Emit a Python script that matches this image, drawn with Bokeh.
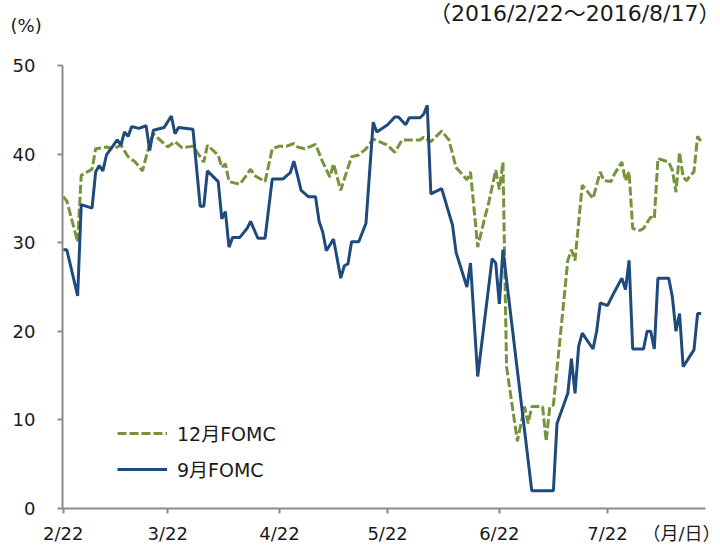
import pandas as pd
from bokeh.plotting import figure
from bokeh.layouts import column
from bokeh.models import FixedTicker, Legend, LegendItem, Range1d, LinearAxis, Title
from bokeh.embed import file_html
from bokeh.resources import INLINE

# ---- data ----
dates_sep = ["2016-02-22", "2016-02-23", "2016-02-26", "2016-02-27", "2016-03-01", "2016-03-02",
             "2016-03-03", "2016-03-04", "2016-03-05", "2016-03-08", "2016-03-09", "2016-03-10",
             "2016-03-11", "2016-03-12", "2016-03-14", "2016-03-16", "2016-03-17", "2016-03-18",
             "2016-03-21", "2016-03-23", "2016-03-24", "2016-03-25", "2016-03-29", "2016-03-31",
             "2016-04-01", "2016-04-02", "2016-04-05", "2016-04-06", "2016-04-07", "2016-04-08",
             "2016-04-09", "2016-04-11", "2016-04-13", "2016-04-14", "2016-04-16", "2016-04-18",
             "2016-04-20", "2016-04-23", "2016-04-25", "2016-04-26", "2016-04-27", "2016-04-28",
             "2016-04-30", "2016-05-02", "2016-05-03", "2016-05-04", "2016-05-05", "2016-05-07",
             "2016-05-09", "2016-05-10", "2016-05-11", "2016-05-12", "2016-05-14", "2016-05-16",
             "2016-05-18", "2016-05-19", "2016-05-22", "2016-05-24", "2016-05-25", "2016-05-27",
             "2016-05-28", "2016-05-31", "2016-06-01", "2016-06-02", "2016-06-03", "2016-06-06",
             "2016-06-09", "2016-06-10", "2016-06-13", "2016-06-14", "2016-06-16", "2016-06-20",
             "2016-06-21", "2016-06-22", "2016-06-23", "2016-07-01", "2016-07-07", "2016-07-08",
             "2016-07-11", "2016-07-12", "2016-07-13", "2016-07-14", "2016-07-15", "2016-07-18",
             "2016-07-19", "2016-07-20", "2016-07-22", "2016-07-24", "2016-07-26", "2016-07-27",
             "2016-07-28", "2016-07-29", "2016-08-01", "2016-08-02", "2016-08-03", "2016-08-04",
             "2016-08-05", "2016-08-08", "2016-08-09", "2016-08-10", "2016-08-11", "2016-08-12",
             "2016-08-15", "2016-08-16", "2016-08-17"]
values_sep = [29.2, 29.2, 24.0, 34.3, 33.9, 38.0,
              38.7, 38.1, 39.9, 41.6, 41.0, 42.5,
              42.0, 43.1, 42.9, 43.2, 40.4, 42.7,
              43.0, 44.3, 42.3, 43.0, 42.8, 34.1,
              34.1, 38.1, 36.9, 32.7, 33.5, 29.5,
              30.6, 30.6, 31.6, 32.4, 30.5, 30.5,
              37.2, 37.2, 37.9, 39.2, 37.6, 35.9,
              35.2, 35.2, 32.4, 31.2, 29.1, 30.4,
              26.0, 27.4, 27.6, 30.1, 30.1, 32.2,
              43.6, 42.5, 43.3, 44.2, 44.2, 43.3,
              44.1, 44.1, 44.5, 45.5, 35.5, 36.1,
              32.0, 28.9, 25.0, 27.7, 14.9, 28.2,
              27.7, 23.1, 29.2, 2.0, 2.0, 9.6,
              13.0, 16.9, 13.0, 18.3, 19.8, 18.0,
              20.0, 23.2, 22.9, 24.5, 26.0, 24.7,
              28.0, 18.0, 18.0, 20.0, 20.0, 18.0,
              26.0, 26.0, 23.9, 20.0, 22.0, 16.0,
              17.9, 22.0, 22.0]

dates_dec = ["2016-02-22", "2016-02-23", "2016-02-26", "2016-02-27", "2016-03-01", "2016-03-02",
             "2016-03-05", "2016-03-07", "2016-03-09", "2016-03-11", "2016-03-13", "2016-03-15",
             "2016-03-17", "2016-03-18", "2016-03-22", "2016-03-24", "2016-03-26", "2016-03-29",
             "2016-04-01", "2016-04-02", "2016-04-05", "2016-04-06", "2016-04-07", "2016-04-08",
             "2016-04-10", "2016-04-11", "2016-04-13", "2016-04-14", "2016-04-15", "2016-04-18",
             "2016-04-20", "2016-04-22", "2016-04-24", "2016-04-26", "2016-04-27", "2016-04-29",
             "2016-05-02", "2016-05-04", "2016-05-06", "2016-05-07", "2016-05-09", "2016-05-10",
             "2016-05-12", "2016-05-14", "2016-05-16", "2016-05-18", "2016-05-22", "2016-05-24",
             "2016-05-26", "2016-05-31", "2016-06-01", "2016-06-03", "2016-06-06", "2016-06-08",
             "2016-06-10", "2016-06-13", "2016-06-14", "2016-06-16", "2016-06-18", "2016-06-19",
             "2016-06-21", "2016-06-22", "2016-06-23", "2016-06-24", "2016-06-27", "2016-06-29",
             "2016-06-30", "2016-07-01", "2016-07-04", "2016-07-05", "2016-07-06", "2016-07-07",
             "2016-07-09", "2016-07-11", "2016-07-12", "2016-07-13", "2016-07-15", "2016-07-18",
             "2016-07-20", "2016-07-21", "2016-07-23", "2016-07-24", "2016-07-26", "2016-07-27",
             "2016-07-28", "2016-07-29", "2016-07-31", "2016-08-01", "2016-08-03", "2016-08-04",
             "2016-08-05", "2016-08-08", "2016-08-09", "2016-08-10", "2016-08-11", "2016-08-12",
             "2016-08-13", "2016-08-14", "2016-08-15", "2016-08-16", "2016-08-17"]
values_dec = [35.2, 34.7, 30.1, 37.6, 38.3, 40.6,
              40.8, 40.6, 41.0, 39.7, 39.1, 38.1,
              41.2, 42.3, 40.8, 41.4, 40.7, 40.9,
              39.1, 41.0, 39.9, 38.5, 38.9, 36.9,
              36.7, 36.6, 37.7, 38.3, 37.6, 36.9,
              40.6, 40.9, 40.9, 41.2, 40.8, 40.6,
              41.1, 39.1, 37.4, 38.9, 35.9, 37.2,
              39.7, 39.9, 40.6, 41.7, 41.0, 40.2,
              41.6, 41.6, 41.9, 41.4, 42.6, 41.6,
              38.5, 37.1, 38.0, 29.5, 32.9, 34.4,
              38.2, 36.0, 39.1, 16.0, 7.6, 11.5,
              9.6, 11.5, 11.5, 7.6, 11.5, 11.7,
              19.8, 28.0, 29.2, 28.0, 36.5, 35.0,
              38.0, 37.0, 36.9, 37.8, 39.1, 37.0,
              38.0, 31.6, 31.4, 31.6, 32.9, 32.7,
              39.5, 39.1, 38.2, 35.7, 40.2, 37.4,
              37.0, 37.6, 38.0, 42.0, 41.4]

series_names = ["12月FOMC", "9月FOMC"]
x_tick_dates = ["2016-02-22", "2016-03-22", "2016-04-22", "2016-05-22", "2016-06-22", "2016-07-22"]
x_tick_labels = ["2/22", "3/22", "4/22", "5/22", "6/22", "7/22"]
y_ticks = [0, 10, 20, 30, 40, 50]
period_text = "（2016/2/22～2016/8/17）"
unit_y = "(%)"
unit_x = "（月/日）"

# ---- styles ----
GREEN = "#77933C"
BLUE = "#1F4A7E"
AXIS = "#8C8C8C"
TEXT = "#1A1A1A"
FONT = "DejaVu Sans, Noto Sans CJK JP"
origin = pd.Timestamp("2016-02-22")
UNIT_X_POS = 171.7   # where the (月/日) caption sits along the x axis
CAP_H = 53           # height of the caption strip above the chart


def to_day(s):
    return (pd.Timestamp(s) - origin) / pd.Timedelta(days=1)


x_sep = [to_day(d) for d in dates_sep]
x_dec = [to_day(d) for d in dates_dec]
tick_pos = [to_day(d) for d in x_tick_dates]

# ---- caption strip (texts above the plot area) ----
cap = figure(width=720, height=CAP_H, output_backend="svg", toolbar_location=None,
             x_range=Range1d(0, 1), y_range=Range1d(0, 1),
             x_axis_location=None, y_axis_location=None, min_border=0)
cap.outline_line_color = None
cap.grid.visible = False
cap.add_layout(Title(text=unit_y, align="left", offset=-52, standoff=-21,
                     text_font=FONT, text_font_size="18px", text_font_style="normal",
                     text_color=TEXT), "above")
cap.add_layout(Title(text=period_text, align="right", offset=-15, standoff=-4,
                     text_font=FONT, text_font_size="22px", text_font_style="normal",
                     text_color=TEXT), "above")

# ---- main chart ----
p = figure(width=720, height=546 - CAP_H, output_backend="svg", toolbar_location=None,
           x_range=Range1d(-0.2, 178.2), y_range=Range1d(0, 50),
           x_axis_location=None,
           min_border_left=62, min_border_right=15, min_border_top=12, min_border_bottom=37)
p.outline_line_color = None
p.grid.visible = False

r_dec = p.line(x_dec, values_dec, line_color=GREEN, line_width=3, line_dash="9 3")
r_sep = p.line(x_sep, values_sep, line_color=BLUE, line_width=3)

# x axis: line + tick marks nearest the plot (no labels), then the labels row
ax_ticks = LinearAxis(ticker=FixedTicker(ticks=tick_pos))
ax_ticks.major_label_text_font_size = "0px"
ax_ticks.major_label_text_color = None
ax_ticks.major_label_standoff = 0
p.add_layout(ax_ticks, "below")

ax_labels = LinearAxis(ticker=FixedTicker(ticks=tick_pos + [UNIT_X_POS]))
ax_labels.major_label_overrides = {**{t: lab for t, lab in zip(tick_pos, x_tick_labels)},
                                   UNIT_X_POS: unit_x}
ax_labels.axis_line_color = None
ax_labels.major_tick_line_color = None
ax_labels.major_tick_out = 0
ax_labels.major_tick_in = 0
ax_labels.minor_tick_line_color = None
ax_labels.major_label_standoff = 9
ax_labels.major_label_text_font = FONT
ax_labels.major_label_text_font_size = "18px"
ax_labels.major_label_text_color = TEXT
p.add_layout(ax_labels, "below")

for ax in (ax_ticks, p.yaxis[0]):
    ax.axis_line_color = AXIS
    ax.axis_line_width = 2
    ax.major_tick_line_color = AXIS
    ax.major_tick_line_width = 2
    ax.major_tick_out = 5
    ax.major_tick_in = 0
    ax.minor_tick_line_color = None

p.yaxis.ticker = FixedTicker(ticks=y_ticks)
p.yaxis.major_label_standoff = 22
p.yaxis.major_label_text_font = FONT
p.yaxis.major_label_text_font_size = "18px"
p.yaxis.major_label_text_color = TEXT

legend = Legend(items=[LegendItem(label=series_names[0], renderers=[r_dec]),
                       LegendItem(label=series_names[1], renderers=[r_sep])],
                location=(55, 26), orientation="vertical",
                glyph_width=50, glyph_height=20, label_standoff=10, spacing=9,
                padding=0, margin=0, border_line_color=None, background_fill_alpha=0,
                label_text_font=FONT, label_text_font_size="19px", label_text_color=TEXT)
p.add_layout(legend)

layout = column(cap, p, spacing=0)
open("out.html", "w").write(file_html(layout, INLINE))
